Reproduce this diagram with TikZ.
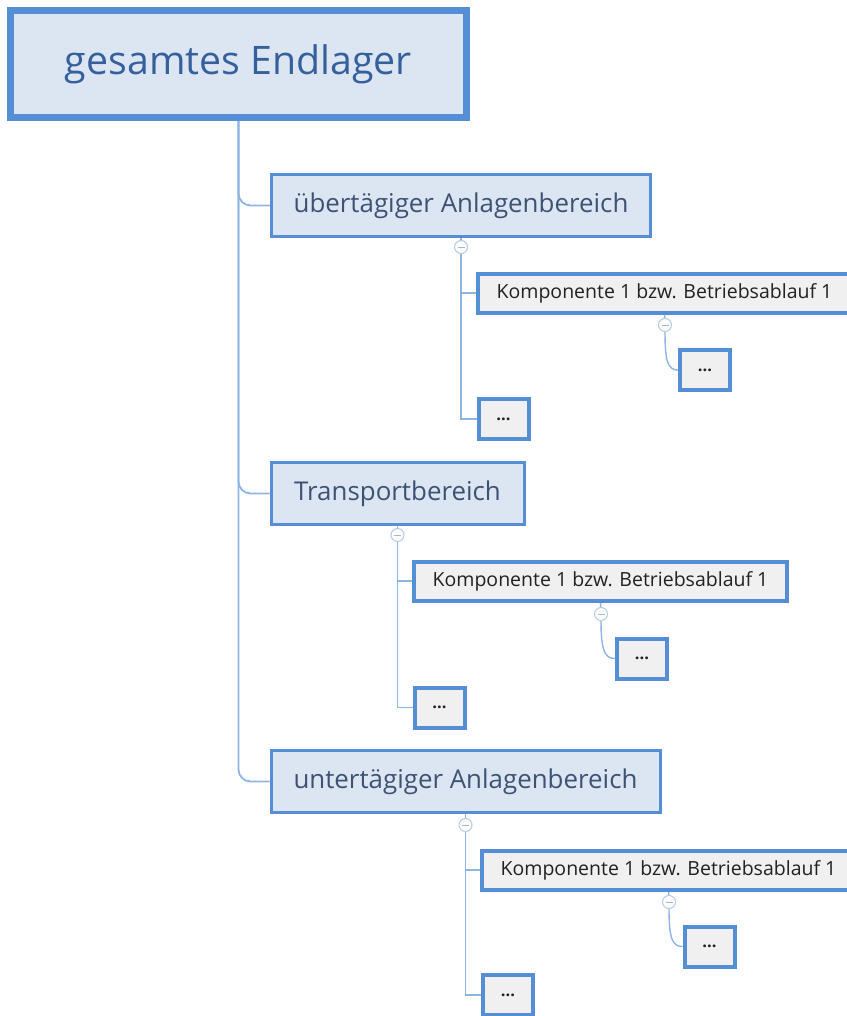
\documentclass[tikz,border=0pt]{standalone}
\usepackage{fontspec}
\setmainfont{Open Sans}
\usetikzlibrary{backgrounds}
\definecolor{frame}{HTML}{558ED5}
\definecolor{paleblue}{HTML}{DCE6F2}
\definecolor{palegray}{HTML}{F0F0F0}
\definecolor{linkblue}{HTML}{8DB4E2}
\definecolor{togglering}{HTML}{B8CCE4}
\definecolor{roottext}{HTML}{36609B}
\definecolor{areatext}{HTML}{3E5274}
\definecolor{comptext}{HTML}{222222}
\begin{document}
\begin{tikzpicture}[x=1pt,y=-1pt,
  box/.style={draw=frame, rectangle, inner sep=0pt, align=center},
  rootbox/.style={box, fill=paleblue, line width=7pt, minimum width=456pt, minimum height=107pt,
    font=\fontsize{39.3}{46}\selectfont, text=roottext},
  areabox/.style={box, fill=paleblue, line width=3pt, minimum height=62pt,
    font=\fontsize{25.9}{30}\selectfont, text=areatext},
  compbox/.style={box, fill=palegray, line width=4pt, minimum width=373pt, minimum height=39pt,
    font=\fontsize{19.5}{23}\selectfont, text=comptext},
  dotbox/.style={box, fill=palegray, line width=4pt, minimum width=50pt, minimum height=40pt,
    font=\bfseries\fontsize{16.5}{20}\selectfont, text=comptext},
  link/.style={draw=linkblue, line width=1.8pt},
  twig/.style={draw=linkblue, line width=1.4pt},
  toggle/.style={circle, draw=togglering, fill=white, line width=1.1pt, minimum size=13pt, inner sep=0pt,
    path picture={\draw[togglering!70!gray, line width=1pt]
      ([xshift=-3.5pt]path picture bounding box.center) -- ([xshift=3.5pt]path picture bounding box.center);}}
]
\useasboundingbox (0,0) rectangle (846,1016);

% root
\node[rootbox] (root) at (238.5,64) {gesamtes Endlager};

% the three areas
\node[areabox, minimum width=379pt] (a1) at (461,205.5) {übertägiger Anlagenbereich};
\node[areabox, minimum width=253pt] (a2) at (397.5,493.5) {Transportbereich};
\node[areabox, minimum width=389pt] (a3) at (465.5,781.5) {untertägiger Anlagenbereich};

\node[toggle] (t1) at (461,247) {};
\node[toggle] (t2) at (397.5,535) {};
\node[toggle] (t3) at (465.5,825) {};

% components
\node[compbox] (c1) at (664.5,293) {Komponente 1 bzw. Betriebsablauf 1};
\node[compbox] (c2) at (600.5,581) {Komponente 1 bzw. Betriebsablauf 1};
\node[compbox] (c3) at (668.5,870) {Komponente 1 bzw. Betriebsablauf 1};

\node[toggle] (u1) at (665,325) {};
\node[toggle] (u2) at (601,614) {};
\node[toggle] (u3) at (669,902) {};

% placeholders
\node[dotbox] (d1a) at (705,370) {...};
\node[dotbox] (d1b) at (503.5,419) {...};
\node[dotbox] (d2a) at (642,658.5) {...};
\node[dotbox] (d2b) at (439.5,707.5) {...};
\node[dotbox] (d3a) at (709.5,946.5) {...};
\node[dotbox] (d3b) at (508,995) {...};

\begin{scope}[on background layer]
  \foreach \a in {a1,a2,a3}
    \draw[link, rounded corners=12pt] (root.south) |- (\a.west);
  \foreach \a/\t/\c/\d in {a1/t1/c1/d1b, a2/t2/c2/d2b, a3/t3/c3/d3b} {
    \draw[link] (\a.south) -- (\t);
    \draw[link] (\t.south) |- (\c.west);
    \draw[link] (\t.south) |- (\d.west);
  }
  \foreach \c/\u/\d in {c1/u1/d1a, c2/u2/d2a, c3/u3/d3a} {
    \draw[twig] (\c.south) -- (\u);
    \draw[twig] (\u.south) .. controls +(0,30) and +(-10,0) .. (\d.west);
  }
\end{scope}
\end{tikzpicture}
\end{document}
